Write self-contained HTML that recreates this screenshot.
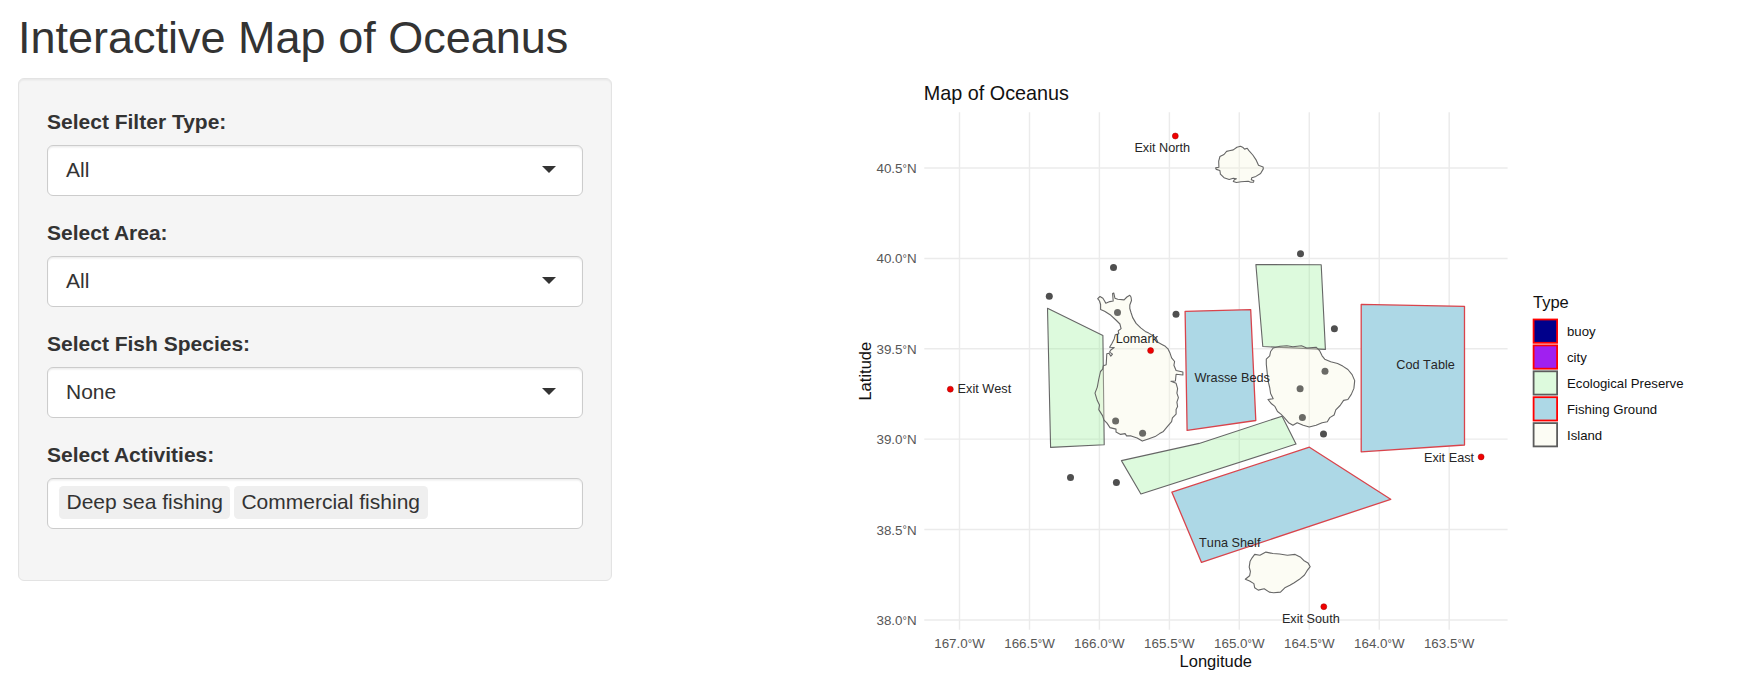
<!DOCTYPE html>
<html lang="en"><head><meta charset="utf-8"><title>Interactive Map of Oceanus</title>
<style>
html,body{margin:0;padding:0;background:#fff;}
body{width:1755px;height:699px;overflow:hidden;position:relative;font-family:"Liberation Sans",Arial,sans-serif;color:#333;}
h2{position:absolute;left:18px;top:13px;margin:0;font-size:45px;font-weight:normal;line-height:50px;color:#333;white-space:nowrap;}
.well{position:absolute;left:18px;top:78px;width:594px;height:503px;box-sizing:border-box;background:#f5f5f5;border:1px solid #e3e3e3;border-radius:6px;box-shadow:inset 0 1.5px 1.5px rgba(0,0,0,.05);}
.lbl{position:absolute;left:28px;font-size:21px;font-weight:bold;line-height:30px;color:#333;white-space:nowrap;}
.sel{position:absolute;left:28px;width:536px;height:51px;box-sizing:border-box;background:#fff;border:1px solid #ccc;border-radius:6px;font-size:21px;line-height:30px;padding:8.5px 18px;color:#333;box-shadow:inset 0 1.5px 1.5px rgba(0,0,0,.075);}
.sel.single:after{content:"";position:absolute;right:26px;top:20px;width:0;height:0;border-style:solid;border-width:7.5px 7.5px 0 7.5px;border-color:#333 transparent transparent transparent;}
.sel.multi{padding:6.5px 11px 3px;}
.item{display:inline-block;vertical-align:top;background:#efefef;color:#333;padding:1.5px 7.5px;margin:0 3.5px 4.5px 0;border-radius:4.5px;line-height:30px;}
svg.plot{position:absolute;left:0;top:0;}
svg text{font-family:"Liberation Sans",Arial,sans-serif;}
.lab text{font-size:12.7px;fill:#262626;font-kerning:none;}
.ax text{font-size:13.4px;fill:#575757;}
.ax .deg{font-size:11px;}
.axt{font-size:16.5px;fill:#111;}
.ttl{font-size:19.8px;fill:#111;}
.leg{font-size:13.2px;fill:#111;}
</style></head><body>
<h2>Interactive Map of Oceanus</h2>
<form class="well">
<label class="lbl" style="top:28px">Select Filter Type:</label>
<div class="sel single" style="top:66px">All</div>
<label class="lbl" style="top:139px">Select Area:</label>
<div class="sel single" style="top:177px">All</div>
<label class="lbl" style="top:250px">Select Fish Species:</label>
<div class="sel single" style="top:288px">None</div>
<label class="lbl" style="top:361px">Select Activities:</label>
<div class="sel multi" style="top:399px"><span class="item">Deep sea fishing</span><span class="item">Commercial fishing</span></div>
</form>
<svg class="plot" width="1755" height="699" viewBox="0 0 1755 699">
<g stroke="#ebebeb" stroke-width="1.45" fill="none">
<line x1="959.5" y1="112.3" x2="959.5" y2="629.8"/>
<line x1="1029.5" y1="112.3" x2="1029.5" y2="629.8"/>
<line x1="1099.4" y1="112.3" x2="1099.4" y2="629.8"/>
<line x1="1169.4" y1="112.3" x2="1169.4" y2="629.8"/>
<line x1="1239.3" y1="112.3" x2="1239.3" y2="629.8"/>
<line x1="1309.3" y1="112.3" x2="1309.3" y2="629.8"/>
<line x1="1379.3" y1="112.3" x2="1379.3" y2="629.8"/>
<line x1="1449.2" y1="112.3" x2="1449.2" y2="629.8"/>
<line x1="924.3" y1="168.0" x2="1507.6" y2="168.0"/>
<line x1="924.3" y1="258.4" x2="1507.6" y2="258.4"/>
<line x1="924.3" y1="348.7" x2="1507.6" y2="348.7"/>
<line x1="924.3" y1="439.1" x2="1507.6" y2="439.1"/>
<line x1="924.3" y1="529.5" x2="1507.6" y2="529.5"/>
<line x1="924.3" y1="619.9" x2="1507.6" y2="619.9"/>
</g>
<path d="M1047.5 308.3 L1102.9 335.4 L1104.2 444.8 L1050.6 447.4 Z" fill="#90ee90" fill-opacity="0.3" stroke="#666" stroke-width="1.1" stroke-linejoin="round"/>
<path d="M1255.9 264.6 L1321.2 264.7 L1325.4 349.4 L1262.8 346.5 Z" fill="#90ee90" fill-opacity="0.3" stroke="#666" stroke-width="1.1" stroke-linejoin="round"/>
<path d="M1121.4 460.6 L1199.2 443.4 L1282.1 416.2 L1296 444.1 L1140.9 494 Z" fill="#90ee90" fill-opacity="0.3" stroke="#666" stroke-width="1.1" stroke-linejoin="round"/>
<path d="M1185.1 311.3 L1250.7 309.6 L1255.8 420.5 L1187.1 430.4 Z" fill="#add8e6" stroke="#d9444c" stroke-width="1.3" stroke-linejoin="round"/>
<path d="M1361.2 304.4 L1464.5 306.3 L1464.5 445 L1361.2 451.8 Z" fill="#add8e6" stroke="#d9444c" stroke-width="1.3" stroke-linejoin="round"/>
<path d="M1171.9 492.2 L1309.4 447.2 L1390.7 499.3 L1201.5 562.4 Z" fill="#add8e6" stroke="#d9444c" stroke-width="1.3" stroke-linejoin="round"/>
<path d="M1240.5 146.3 L1243.1 147.6 L1244.6 149.1 L1247.2 148.3 L1248.7 150.4 L1252.8 155.0 L1255.9 159.6 L1258.5 165.3 L1263.1 166.9 L1263.3 168.9 L1260.6 173.5 L1255.9 176.4 L1251.8 177.7 L1251.3 179.7 L1253.9 180.8 L1253.4 182.3 L1250.8 182.3 L1248.2 181.3 L1241.0 181.8 L1236.4 182.5 L1233.3 181.5 L1234.3 179.7 L1236.4 178.7 L1233.3 178.2 L1229.2 179.5 L1224.0 177.7 L1220.4 174.1 L1219.9 170.5 L1216.3 169.4 L1215.6 167.9 L1218.9 167.2 L1218.7 161.2 L1219.9 156.6 L1224.0 154.5 L1226.6 151.4 L1229.2 150.7 L1233.3 149.9 L1236.9 147.3 Z" fill="#f5f5dc" fill-opacity="0.3" stroke="#666" stroke-width="1.1" stroke-linejoin="round"/>
<path d="M1097.7 298.7 L1100.0 296.5 L1102.9 298.2 L1104.6 301.0 L1105.8 303.3 L1109.8 301.6 L1113.2 301.0 L1112.6 293.6 L1113.8 293.0 L1114.9 298.2 L1117.8 299.3 L1124.1 299.9 L1126.9 297.0 L1129.8 295.3 L1131.0 297.0 L1131.5 300.5 L1129.8 305.0 L1129.8 308.5 L1131.0 312.5 L1132.7 317.6 L1136.1 323.4 L1140.7 327.9 L1145.3 331.4 L1148.7 333.1 L1153.3 336.0 L1156.1 338.2 L1157.9 342.3 L1161.9 344.5 L1165.3 346.3 L1168.2 349.1 L1167.9 348.8 L1170.1 353.3 L1171.6 357.8 L1174.6 361.5 L1173.9 365.3 L1176.1 370.5 L1182.9 372.0 L1182.9 375.0 L1176.1 374.3 L1175.4 381.0 L1170.9 381.3 L1176.1 383.3 L1177.6 388.6 L1176.9 393.1 L1178.4 397.6 L1176.9 402.1 L1177.6 406.6 L1176.1 409.6 L1176.1 414.1 L1172.4 417.8 L1171.6 421.6 L1167.1 426.9 L1163.4 431.4 L1159.6 433.6 L1155.1 436.6 L1148.3 438.9 L1142.3 441.1 L1137.1 438.1 L1131.1 435.9 L1126.6 435.9 L1125.1 433.6 L1120.6 434.4 L1116.0 432.1 L1116.0 429.1 L1110.0 427.6 L1107.0 423.1 L1104.0 420.1 L1102.5 415.6 L1098.8 409.6 L1099.5 405.1 L1097.3 400.6 L1095.0 393.1 L1097.3 387.1 L1098.7 379.5 L1100.5 371.5 L1102.7 369.2 L1103.3 365.8 L1106.2 364.7 L1106.8 353.8 L1109.0 353.2 L1110.8 356.1 L1112.5 354.1 L1109.6 352.1 L1110.8 350.0 L1114.2 347.5 L1109.6 347.3 L1111.9 343.5 L1114.2 338.9 L1115.3 334.7 L1118.8 333.7 L1118.2 330.9 L1121.1 328.6 L1119.9 324.0 L1115.9 320.0 L1110.9 315.3 L1104.6 311.3 L1100.6 309.6 L1100.6 304.5 L1099.5 301.0 Z" fill="#f5f5dc" fill-opacity="0.3" stroke="#666" stroke-width="1.1" stroke-linejoin="round"/>
<path d="M1273.2 348.0 L1280.0 346.3 L1286.9 345.8 L1292.9 346.7 L1301.5 345.8 L1306.7 348.0 L1316.1 347.2 L1319.5 350.6 L1322.1 355.8 L1324.7 359.2 L1330.7 361.8 L1337.6 363.5 L1342.7 366.1 L1347.9 369.5 L1352.1 374.6 L1354.7 380.6 L1353.9 388.4 L1351.3 394.4 L1347.9 399.5 L1343.6 400.4 L1340.1 405.5 L1335.8 409.8 L1334.1 415.0 L1329.8 417.6 L1327.3 421.8 L1322.1 422.7 L1316.1 425.3 L1309.2 427.0 L1303.2 425.3 L1297.2 422.7 L1292.9 425.3 L1288.6 422.7 L1284.3 417.6 L1280.9 414.1 L1277.5 411.5 L1274.9 406.4 L1271.5 403.8 L1268.0 399.5 L1273.2 398.7 L1270.6 393.5 L1269.7 387.5 L1268.0 380.6 L1267.2 372.9 L1266.3 364.3 L1266.3 359.2 L1269.7 355.8 L1270.6 351.5 Z" fill="#f5f5dc" fill-opacity="0.3" stroke="#666" stroke-width="1.1" stroke-linejoin="round"/>
<path d="M1254.7 554.4 L1259.9 555.2 L1265.9 552.1 L1272.8 553.5 L1279.6 554.0 L1287.4 555.2 L1295.1 554.4 L1300.2 556.9 L1303.7 560.4 L1308.0 562.9 L1310.2 566.7 L1307.1 570.7 L1304.5 575.0 L1299.4 579.3 L1294.2 582.7 L1289.9 585.3 L1284.8 587.8 L1280.5 592.1 L1273.6 592.7 L1269.3 592.1 L1264.2 588.7 L1258.2 590.1 L1254.7 587.8 L1253.9 583.6 L1249.6 581.0 L1245.3 579.3 L1249.6 575.8 L1250.4 571.5 L1249.2 567.2 L1250.1 561.2 L1252.1 557.8 Z" fill="#f5f5dc" fill-opacity="0.3" stroke="#666" stroke-width="1.1" stroke-linejoin="round"/>
<g fill="#000">
<circle cx="1113.5" cy="267.5" r="3.5" fill-opacity="0.69"/>
<circle cx="1049.3" cy="296.2" r="3.5" fill-opacity="0.69"/>
<circle cx="1117.5" cy="312.5" r="3.5" fill-opacity="0.58"/>
<circle cx="1176" cy="314.2" r="3.5" fill-opacity="0.69"/>
<circle cx="1300.5" cy="253.7" r="3.5" fill-opacity="0.69"/>
<circle cx="1334.4" cy="328.8" r="3.5" fill-opacity="0.69"/>
<circle cx="1325" cy="371.2" r="3.5" fill-opacity="0.58"/>
<circle cx="1300.1" cy="388.7" r="3.5" fill-opacity="0.58"/>
<circle cx="1302.4" cy="417.6" r="3.5" fill-opacity="0.58"/>
<circle cx="1323.5" cy="433.9" r="3.5" fill-opacity="0.69"/>
<circle cx="1115.6" cy="421.1" r="3.5" fill-opacity="0.58"/>
<circle cx="1142.6" cy="433.3" r="3.5" fill-opacity="0.58"/>
<circle cx="1070.5" cy="477.5" r="3.5" fill-opacity="0.69"/>
<circle cx="1116.4" cy="482.6" r="3.5" fill-opacity="0.69"/>
</g>
<g fill="#f00000" stroke="#9a0000" stroke-opacity="0.6" stroke-width="0.8">
<circle cx="1175.3" cy="136.0" r="3.0"/>
<circle cx="1150.6" cy="350.6" r="3.0"/>
<circle cx="950.3" cy="389.2" r="3.0"/>
<circle cx="1481.1" cy="456.9" r="3.0"/>
<circle cx="1323.8" cy="606.7" r="3.0"/>
</g>
<g class="lab">
<text x="1134.4" y="151.9">Exit North</text>
<text x="1115.7" y="343">Lomark</text>
<text x="957.6" y="392.8">Exit West</text>
<text x="1194.4" y="381.9">Wrasse Beds</text>
<text x="1396.3" y="368.8">Cod Table</text>
<text x="1424.0" y="461.8">Exit East</text>
<text x="1199.1" y="546.6">Tuna Shelf</text>
<text x="1281.9" y="622.7">Exit South</text>
</g>
<g class="ax">
<text x="959.5" y="647.6" text-anchor="middle">167.0<tspan class="deg" dy="-1.1">°</tspan><tspan dy="1.1">W</tspan></text>
<text x="1029.5" y="647.6" text-anchor="middle">166.5<tspan class="deg" dy="-1.1">°</tspan><tspan dy="1.1">W</tspan></text>
<text x="1099.4" y="647.6" text-anchor="middle">166.0<tspan class="deg" dy="-1.1">°</tspan><tspan dy="1.1">W</tspan></text>
<text x="1169.4" y="647.6" text-anchor="middle">165.5<tspan class="deg" dy="-1.1">°</tspan><tspan dy="1.1">W</tspan></text>
<text x="1239.3" y="647.6" text-anchor="middle">165.0<tspan class="deg" dy="-1.1">°</tspan><tspan dy="1.1">W</tspan></text>
<text x="1309.3" y="647.6" text-anchor="middle">164.5<tspan class="deg" dy="-1.1">°</tspan><tspan dy="1.1">W</tspan></text>
<text x="1379.3" y="647.6" text-anchor="middle">164.0<tspan class="deg" dy="-1.1">°</tspan><tspan dy="1.1">W</tspan></text>
<text x="1449.2" y="647.6" text-anchor="middle">163.5<tspan class="deg" dy="-1.1">°</tspan><tspan dy="1.1">W</tspan></text>
<text x="916.6" y="173.0" text-anchor="end">40.5<tspan class="deg" dy="-1.1">°</tspan><tspan dy="1.1">N</tspan></text>
<text x="916.6" y="263.4" text-anchor="end">40.0<tspan class="deg" dy="-1.1">°</tspan><tspan dy="1.1">N</tspan></text>
<text x="916.6" y="353.7" text-anchor="end">39.5<tspan class="deg" dy="-1.1">°</tspan><tspan dy="1.1">N</tspan></text>
<text x="916.6" y="444.1" text-anchor="end">39.0<tspan class="deg" dy="-1.1">°</tspan><tspan dy="1.1">N</tspan></text>
<text x="916.6" y="534.5" text-anchor="end">38.5<tspan class="deg" dy="-1.1">°</tspan><tspan dy="1.1">N</tspan></text>
<text x="916.6" y="624.9" text-anchor="end">38.0<tspan class="deg" dy="-1.1">°</tspan><tspan dy="1.1">N</tspan></text>
</g>
<text class="axt" x="1215.8" y="667" text-anchor="middle">Longitude</text>
<text class="axt" transform="translate(871.2 371.2) rotate(-90)" text-anchor="middle">Latitude</text>
<text class="ttl" x="923.8" y="100.3">Map of Oceanus</text>
<text class="axt" x="1533" y="307.6">Type</text>
<rect x="1533.6" y="319.5" width="23.5" height="23.3" fill="#00008b" fill-opacity="1" stroke="#ff0000" stroke-width="1.8"/>
<text class="leg" x="1567" y="336.2">buoy</text>
<rect x="1533.6" y="345.4" width="23.5" height="23.3" fill="#a020f0" fill-opacity="1" stroke="#ff0000" stroke-width="1.8"/>
<text class="leg" x="1567" y="362.1">city</text>
<rect x="1533.6" y="371.3" width="23.5" height="23.3" fill="#90ee90" fill-opacity="0.3" stroke="#5c5c5c" stroke-width="1.8"/>
<text class="leg" x="1567" y="388.0">Ecological Preserve</text>
<rect x="1533.6" y="397.2" width="23.5" height="23.3" fill="#add8e6" fill-opacity="1" stroke="#ff0000" stroke-width="1.8"/>
<text class="leg" x="1567" y="413.9">Fishing Ground</text>
<rect x="1533.6" y="423.1" width="23.5" height="23.3" fill="#f5f5dc" fill-opacity="0.3" stroke="#5c5c5c" stroke-width="1.8"/>
<text class="leg" x="1567" y="439.8">Island</text>
</svg>
</body></html>
